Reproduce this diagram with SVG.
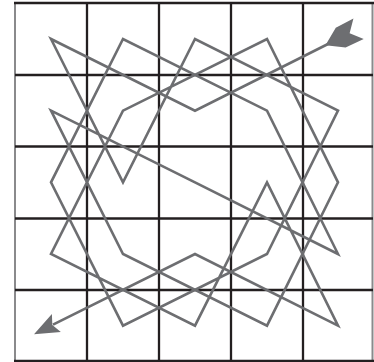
<svg xmlns="http://www.w3.org/2000/svg" width="374" height="362" viewBox="0 0 374 362">
<style>
.g{stroke:#231f20;stroke-width:2.3;fill:none}
.b{stroke:#8a8a8c;stroke-width:2;fill:none}
.t{stroke:#6d6e71;stroke-width:2.6;fill:none;stroke-linejoin:miter}
.h{fill:#6d6e71}
</style>
<rect width="374" height="362" fill="#ffffff"/>
<g id="grid">
<line class="b" x1="15" y1="2" x2="15" y2="362"/>
<line class="b" x1="372.5" y1="2" x2="372.5" y2="362"/>
<line class="g" x1="14" y1="3" x2="374" y2="3"/>
<line class="g" x1="14" y1="361" x2="374" y2="361"/>
<line class="g" x1="87" y1="3" x2="87" y2="361"/>
<line class="g" x1="159" y1="3" x2="159" y2="361"/>
<line class="g" x1="231" y1="3" x2="231" y2="361"/>
<line class="g" x1="303" y1="3" x2="303" y2="361"/>
<line class="g" x1="15" y1="75" x2="373" y2="75"/>
<line class="g" x1="15" y1="146.5" x2="373" y2="146.5"/>
<line class="g" x1="15" y1="218.5" x2="373" y2="218.5"/>
<line class="g" x1="15" y1="290" x2="373" y2="290"/>
</g>
<g id="tour">
<polyline class="t" points="330,43 195,110.7 51,39 123,182.3 195,39 338,110.7 267,254 123,325.7 51,182.3 123,39 267,110.7 338,254 195,182.3 51,110.7 123,254 267,325.7 338,182.3 267,39 123,110.7 51,254 195,325.7 267,182.3 338,325.7 195,254 53,324.7"/>
<polygon class="h" transform="translate(338,39) rotate(-26.57)" points="-14,0 3,-11 23,-11.5 13,0 23,11.5 3,11"/>
<polygon class="h" transform="translate(51,325.7) rotate(-26.57)" points="-19,0 6,-10 1.5,0 6,10"/>
</g>
</svg>
